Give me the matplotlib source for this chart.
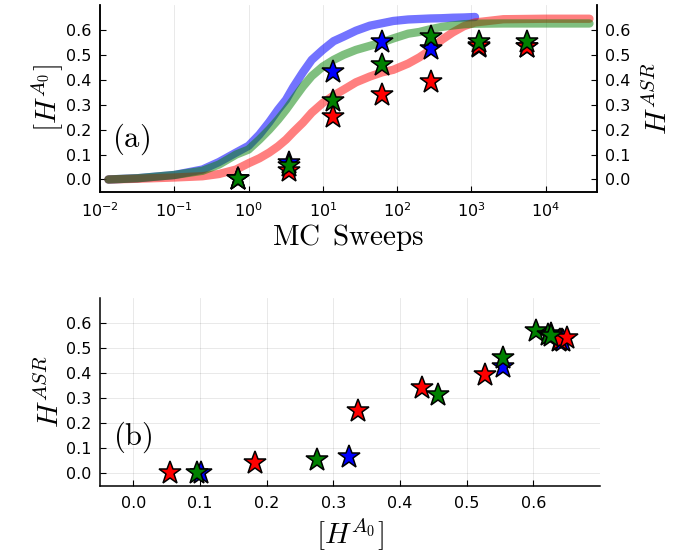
import numpy as np
import matplotlib
matplotlib.use("Agg")
import matplotlib.pyplot as plt

plt.rcParams.update({"font.family": "DejaVu Sans", "font.size": 11,
                     "mathtext.fontset": "dejavusans"})

BLUE, GREEN, RED = "#0000ff", "#008000", "#ff0000"

# relaxation curves [H^A0] vs MC sweeps
SWEEPS = [0.013, 0.032, 0.1, 0.24, 0.4, 0.68, 1.0, 1.4, 1.9, 2.5, 3.2, 4.0,
          5.4, 7.1, 10, 14, 19, 28, 43, 63, 89, 141, 200, 282, 398, 562, 794,
          1122, 2700, 10000, 39000]
CURVE_BLUE = [0.0, 0.005, 0.018, 0.04, 0.07, 0.108, 0.135, 0.18, 0.23, 0.28,
              0.32, 0.37, 0.43, 0.48, 0.52, 0.555, 0.573, 0.597, 0.617, 0.627,
              0.636, 0.642, 0.644, 0.646, 0.647, 0.649, 0.65, 0.652]
CURVE_GREEN = [0.0, 0.005, 0.018, 0.035, 0.06, 0.10, 0.12, 0.16, 0.2, 0.24,
               0.28, 0.32, 0.373, 0.415, 0.453, 0.48, 0.50, 0.52, 0.536, 0.55,
               0.566, 0.585, 0.592, 0.603, 0.612, 0.618, 0.623, 0.625, 0.626,
               0.626, 0.626]
CURVE_RED = [0.0, 0.003, 0.008, 0.013, 0.022, 0.04, 0.065, 0.085, 0.108, 0.133,
             0.16, 0.19, 0.228, 0.268, 0.307, 0.337, 0.36, 0.39, 0.413, 0.43,
             0.44, 0.465, 0.49, 0.52, 0.56, 0.59, 0.615, 0.63, 0.643, 0.645, 0.645]

# H^ASR stars at selected times
STAR_T = [0.72, 3.5, 13.8, 63, 288, 1255, 5550]
ASR_BLUE = [0.0, 0.067, 0.433, 0.553, 0.523, 0.53, 0.53]
ASR_GREEN = [0.0, 0.053, 0.313, 0.46, 0.573, 0.553, 0.553]
ASR_RED = [0.0, 0.033, 0.249, 0.34, 0.393, 0.536, 0.533]

# panel (b): [H^A0] at the same times vs H^ASR
HA0_BLUE = [0.101, 0.323, 0.554, 0.626, 0.638, 0.643, 0.645]
HB_BLUE = [0.0, 0.064, 0.424, 0.556, 0.527, 0.533, 0.53]
HA0_GREEN = [0.095, 0.276, 0.457, 0.554, 0.604, 0.622, 0.626]
HB_GREEN = [0.0, 0.053, 0.313, 0.46, 0.567, 0.553, 0.55]
HA0_RED = [0.055, 0.183, 0.3375, 0.433, 0.527, 0.64, 0.651]
HB_RED = [0.0, 0.04, 0.249, 0.34, 0.393, 0.533, 0.54]

YT = [0.0, 0.1, 0.2, 0.3, 0.4, 0.5, 0.6]
STAR = dict(linestyle="none", marker="*", ms=17, mec="black", mew=1.1)
LINE = dict(lw=6, solid_capstyle="round", zorder=2)
CM = dict(math_fontfamily="cm")


def style(ax, spines):
    for s in ["left", "right", "top", "bottom"]:
        ax.spines[s].set_visible(s in spines)
        ax.spines[s].set_linewidth(1.1)
    ax.tick_params(direction="in", length=4, width=0.8, labelsize=11.5)
    ax.tick_params(axis="x", pad=7)
    ax.tick_params(axis="y", pad=6)


fig = plt.figure(figsize=(6.91, 5.58), dpi=100)
ax1 = fig.add_axes([0.1447, 0.656, 0.719, 0.335])
ax1.plot(SWEEPS[:len(CURVE_BLUE)], CURVE_BLUE, color=BLUE, alpha=0.55, **LINE)
ax1.plot(SWEEPS, CURVE_RED, color=RED, alpha=0.5, **LINE)
ax1.plot(SWEEPS, CURVE_GREEN, color=GREEN, alpha=0.5, **LINE)
ax1.set_xscale("log")
ax1.set_xlim(1e-2, 4.9e4)
ax1.set_ylim(-0.05, 0.70)
ax1.set_yticks(YT)
ax1.set_xticks([1e-2, 1e-1, 1e0, 1e1, 1e2, 1e3, 1e4])
ax1.minorticks_off()
ax1.grid(axis="x", color="black", alpha=0.1, lw=0.6)
style(ax1, ["left", "bottom", "right"])
ax1.set_ylabel(r"$[H^{A_0}]$", fontsize=21, labelpad=0, **CM)
ax1.set_xlabel(r"$\mathrm{MC\ \,Sweeps}$", fontsize=21, labelpad=1, **CM)
ax1.text(0.024, 0.28, r"$\mathrm{(a)}$", transform=ax1.transAxes, fontsize=22,
         va="center", **CM)

ax1r = ax1.twinx()
ax1r.set_ylim(-0.05, 0.70)
ax1r.set_yticks(YT)
ax1r.plot(STAR_T, ASR_BLUE, color=BLUE, **STAR)
ax1r.plot(STAR_T, ASR_RED, color=RED, **STAR)
ax1r.plot(STAR_T, ASR_GREEN, color=GREEN, **STAR)
style(ax1r, ["left", "bottom", "right"])
ax1r.set_ylabel(r"$H^{ASR}$", fontsize=21, labelpad=9, **CM)

ax2 = fig.add_axes([0.1447, 0.129, 0.7236, 0.337])
ax2.plot(HA0_BLUE, HB_BLUE, color=BLUE, **STAR)
ax2.plot(HA0_RED, HB_RED, color=RED, **STAR)
ax2.plot(HA0_GREEN, HB_GREEN, color=GREEN, **STAR)
ax2.set_xlim(-0.05, 0.70)
ax2.set_ylim(-0.05, 0.70)
ax2.set_xticks(YT)
ax2.set_yticks(YT)
ax2.grid(color="black", alpha=0.1, lw=0.6)
style(ax2, ["left", "bottom"])
ax2.set_ylabel(r"$H^{ASR}$", fontsize=21, labelpad=1, **CM)
ax2.set_xlabel(r"$[H^{A_0}]$", fontsize=21, labelpad=4, **CM)
ax2.text(0.026, 0.26, r"$\mathrm{(b)}$", transform=ax2.transAxes, fontsize=22,
         va="center", **CM)

fig.savefig("out.png", dpi=100)
